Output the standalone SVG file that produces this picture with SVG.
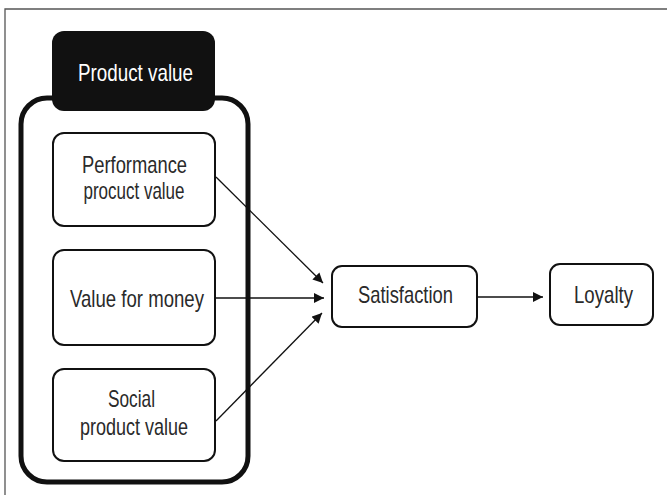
<svg xmlns="http://www.w3.org/2000/svg" width="667" height="495" viewBox="0 0 667 495">
<style>
text{font-family:"Liberation Sans",Arial,sans-serif;font-size:24px;fill:#2a2a2a;text-anchor:middle}
.box{fill:#fff;stroke:#111;stroke-width:2}
.con{stroke:#111;stroke-width:1.3;fill:none}
</style>
<defs>
<marker id="ah" viewBox="0 0 10 10" refX="10" refY="5" markerWidth="10" markerHeight="10" markerUnits="userSpaceOnUse" orient="auto">
<path d="M0,0 L10,5 L0,10 z" fill="#111"/>
</marker>
</defs>
<rect width="667" height="495" fill="#fff"/>
<path d="M5,495 V9 H667" fill="none" stroke="#555" stroke-width="1.3"/>
<g id="product-value">
<rect x="21" y="98" width="227" height="384" rx="26" fill="none" stroke="#111" stroke-width="5"/>
<rect x="52" y="31" width="163" height="80" rx="12" fill="#111"/>
<text x="135.5" y="81" textLength="115" lengthAdjust="spacingAndGlyphs" style="fill:#fff">Product value</text>
</g>
<g id="performance">
<rect class="box" x="53" y="133" width="162" height="93" rx="11"/>
<text x="134.5" y="173" textLength="105" lengthAdjust="spacingAndGlyphs">Performance</text>
<text x="134" y="199" textLength="101" lengthAdjust="spacingAndGlyphs">procuct value</text>
</g>
<g id="money">
<rect class="box" x="53" y="250" width="162" height="95" rx="11"/>
<text x="137" y="307" textLength="134" lengthAdjust="spacingAndGlyphs">Value for money</text>
</g>
<g id="social">
<rect class="box" x="53" y="369" width="162" height="92" rx="11"/>
<text x="131.5" y="407" textLength="47" lengthAdjust="spacingAndGlyphs">Social</text>
<text x="134" y="435" textLength="108" lengthAdjust="spacingAndGlyphs">product value</text>
</g>
<g id="satisfaction">
<rect class="box" x="332" y="266" width="145" height="61" rx="10"/>
<text x="405.5" y="303" textLength="95" lengthAdjust="spacingAndGlyphs">Satisfaction</text>
</g>
<g id="loyalty">
<rect class="box" x="550" y="264" width="103" height="61" rx="10"/>
<text x="603.5" y="303" textLength="59" lengthAdjust="spacingAndGlyphs">Loyalty</text>
</g>
<g id="connectors">
<line class="con" x1="216" y1="177" x2="323" y2="283" marker-end="url(#ah)"/>
<line class="con" x1="216" y1="298" x2="324" y2="298" marker-end="url(#ah)"/>
<line class="con" x1="216" y1="421" x2="322" y2="313" marker-end="url(#ah)"/>
<line class="con" x1="478" y1="297" x2="543" y2="297" marker-end="url(#ah)"/>
</g>
</svg>
